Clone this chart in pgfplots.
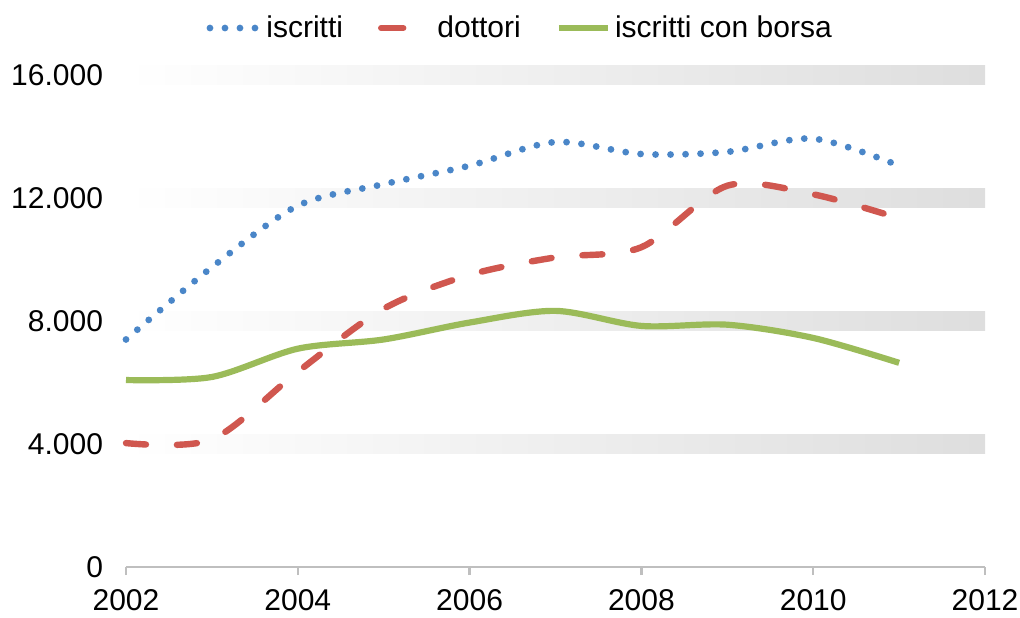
\documentclass[border=0pt]{standalone}
\usepackage{fontspec}
\setmainfont{Liberation Sans}
\usepackage{pgfplots}
\pgfplotsset{compat=1.18}
\definecolor{cblue}{HTML}{4A86C8}
\definecolor{cred}{HTML}{D0574F}
\definecolor{cgreen}{HTML}{9BBB59}
\definecolor{caxis}{HTML}{BFBFBF}
\pgfplotsset{
  legline/.style={legend image code/.code={\draw[##1] (0pt,0pt) -- (24.5pt,0pt);}},
  legdash/.style={legend image code/.code={\path (0pt,0pt) -- (24.5pt,0pt); \draw[##1, solid] (0.5pt,0pt) -- (11pt,0pt);}},
}
\begin{document}
\begin{tikzpicture}
\begin{axis}[
  name=ax,
  scale only axis, width=429.5pt, height=246pt,
  xmin=2002, xmax=2012, ymin=0, ymax=16000,
  clip=false,
  axis lines*=left,
  y axis line style={draw=none},
  x axis line style={draw=caxis, line width=1.2pt},
  tick align=outside, major tick length=4pt,
  xtick style={draw=caxis, line width=1.2pt},
  ytick style={draw=none},
  xtick={2002,2004,...,2012},
  ytick={0,4000,8000,12000,16000},
  scaled y ticks=false,
  /pgf/number format/assume math mode=true,
  tick label style={font=\fontsize{15}{18}\selectfont, text=black},
  yticklabel style={/pgf/number format/.cd, 1000 sep={.}, /tikz/.cd, xshift=-4pt},
  xticklabel style={/pgf/number format/1000 sep={}, yshift=-3.5pt},
  legend style={at={(0.46,1.0955)}, anchor=center, draw=none, fill=none,
    font=\fontsize{15}{18}\selectfont, legend columns=3,
    /tikz/every even column/.append style={column sep=15.5pt},
    /tikz/every odd column/.append style={column sep=0pt}},
  legend cell align=left,
]
\fill[left color=white, right color=black!13] (axis cs:2002,3700) rectangle (axis cs:2012,4300);
\fill[left color=white, right color=black!13] (axis cs:2002,7700) rectangle (axis cs:2012,8300);
\fill[left color=white, right color=black!13] (axis cs:2002,11700) rectangle (axis cs:2012,12300);
\fill[left color=white, right color=black!13] (axis cs:2002,15700) rectangle (axis cs:2012,16300);
\addplot[cblue, line width=3.4pt, line cap=round, dash pattern=on 0pt off 7.5pt, smooth, legline]
  coordinates {(2002,7400) (2003,9750) (2004,11750) (2005,12450) (2006,13050)
   (2007,13820) (2008,13430) (2009,13500) (2010,13930) (2011,13050)};
\addlegendentry{iscritti}
\addplot[cred, line width=3.2pt, line cap=round, dash pattern=on 10pt off 15.5pt, smooth, legdash]
  coordinates {(2002,4030) (2003,4150) (2004,6350) (2005,8400) (2006,9500)
   (2007,10070) (2008,10400) (2009,12400) (2010,12120) (2011,11340)};
\addlegendentry{dottori}
\addplot[cgreen, line width=3.1pt, smooth, legline]
  coordinates {(2002,6080) (2003,6180) (2004,7100) (2005,7400) (2006,7950)
   (2007,8330) (2008,7840) (2009,7880) (2010,7450) (2011,6640)};
\addlegendentry{iscritti con borsa}
\end{axis}
\pgfresetboundingbox
\path[use as bounding box] ([shift={(-63pt,-25pt)}]ax.south west) rectangle ([shift={(17.5pt,37.5pt)}]ax.north east);
\end{tikzpicture}
\end{document}
